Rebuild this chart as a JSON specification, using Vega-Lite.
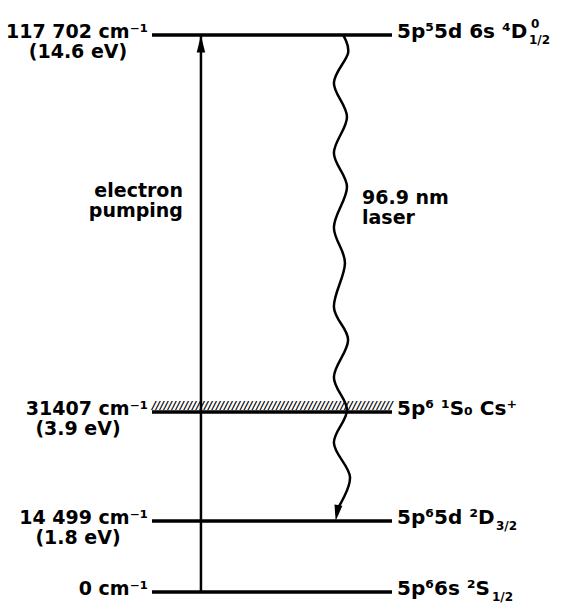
{
  "$schema": "https://vega.github.io/schema/vega-lite/v6.json",
  "width": 564,
  "height": 606,
  "autosize": "none",
  "padding": 0,
  "background": "white",
  "config": {
    "view": {"stroke": null},
    "text": {"font": "DejaVu Sans", "fontWeight": "bold", "fontSize": 19, "color": "black"}
  },
  "datasets": {
    "levels": [
      {"energy": 117702, "cm": "117 702 cm⁻¹", "ev": "(14.6 eV)", "state": "5p⁵5d 6s ⁴D", "sup": "0", "sub": "1/2", "ionization": false},
      {"energy": 31407, "cm": "31407 cm⁻¹", "ev": "(3.9 eV)", "state": "5p⁶ ¹S₀ Cs⁺", "sup": "", "sub": "", "ionization": true},
      {"energy": 14499, "cm": "14 499 cm⁻¹", "ev": "(1.8 eV)", "state": "5p⁶5d ²D", "sup": "", "sub": "3/2", "ionization": false},
      {"energy": 0, "cm": "0 cm⁻¹", "ev": "", "state": "5p⁶6s ²S", "sup": "", "sub": "1/2", "ionization": false}
    ],
    "transitions": [
      {"kind": "pump", "from": 0, "to": 117702},
      {"kind": "laser", "from": 117702, "to": 14499}
    ],
    "wave": [
      {"i": 1, "x": 79.6, "e": 117702},
      {"i": 2, "x": 81.7, "e": 113582},
      {"i": 3, "x": 75.8, "e": 106715},
      {"i": 4, "x": 81.25, "e": 98933},
      {"i": 5, "x": 75.8, "e": 90692},
      {"i": 6, "x": 81.25, "e": 82910},
      {"i": 7, "x": 75.8, "e": 73754},
      {"i": 8, "x": 80.4, "e": 65513},
      {"i": 9, "x": 75.8, "e": 55442},
      {"i": 10, "x": 81.7, "e": 47888},
      {"i": 11, "x": 75.8, "e": 39419},
      {"i": 12, "x": 81.25, "e": 31865},
      {"i": 13, "x": 75.8, "e": 26597},
      {"i": 14, "x": 82.5, "e": 21323},
      {"i": 15, "x": 77.5, "e": 16515}
    ]
  },
  "layer": [
    {
      "data": {"name": "levels"},
      "transform": [{"filter": "datum.ionization"}],
      "mark": {"type": "text", "text": "////////////////////////////////////////////////////////////", "align": "left", "baseline": "alphabetic", "fontSize": 11, "fontStyle": "italic", "fontWeight": "bold", "dy": -3},
      "encoding": {
        "x": {"datum": 0, "type": "quantitative", "scale": {"domain": [-63.33, 171.67], "nice": false, "zero": false}, "axis": null},
        "y": {"field": "energy", "type": "quantitative", "scale": {"domain": [0, 14499, 31407, 117702], "range": [592, 521, 412, 35], "nice": false, "zero": false}, "axis": null}
      }
    },
    {
      "data": {"name": "levels"},
      "mark": {"type": "rule", "strokeWidth": 3.5, "color": "black"},
      "encoding": {
        "x": {"datum": 0, "type": "quantitative", "scale": {"domain": [-63.33, 171.67], "nice": false, "zero": false}, "axis": null},
        "x2": {"datum": 100},
        "y": {"field": "energy", "type": "quantitative", "scale": {"domain": [0, 14499, 31407, 117702], "range": [592, 521, 412, 35], "nice": false, "zero": false}, "axis": null}
      }
    },
    {
      "data": {"name": "transitions"},
      "transform": [{"filter": "datum.kind === 'pump'"}],
      "mark": {"type": "rule", "strokeWidth": 2.5, "color": "black"},
      "encoding": {
        "x": {"datum": 20.4, "type": "quantitative", "scale": {"domain": [-63.33, 171.67], "nice": false, "zero": false}, "axis": null},
        "y": {"field": "from", "type": "quantitative", "scale": {"domain": [0, 14499, 31407, 117702], "range": [592, 521, 412, 35], "nice": false, "zero": false}, "axis": null},
        "y2": {"field": "to"}
      }
    },
    {
      "data": {"name": "transitions"},
      "transform": [{"filter": "datum.kind === 'pump'"}],
      "mark": {"type": "point", "shape": "M-0.5,1L0,-1L0.5,1Z", "size": 289, "filled": true, "color": "black", "opacity": 1, "yOffset": 9},
      "encoding": {
        "x": {"datum": 20.4, "type": "quantitative", "scale": {"domain": [-63.33, 171.67], "nice": false, "zero": false}, "axis": null},
        "y": {"field": "to", "type": "quantitative", "scale": {"domain": [0, 14499, 31407, 117702], "range": [592, 521, 412, 35], "nice": false, "zero": false}, "axis": null}
      }
    },
    {
      "data": {"name": "wave"},
      "mark": {"type": "line", "interpolate": "cardinal", "strokeWidth": 2.5, "color": "black"},
      "encoding": {
        "x": {"field": "x", "type": "quantitative", "scale": {"domain": [-63.33, 171.67], "nice": false, "zero": false}, "axis": null},
        "y": {"field": "e", "type": "quantitative", "scale": {"domain": [0, 14499, 31407, 117702], "range": [592, 521, 412, 35], "nice": false, "zero": false}, "axis": null},
        "order": {"field": "i", "type": "quantitative"}
      }
    },
    {
      "data": {"name": "transitions"},
      "transform": [{"filter": "datum.kind === 'laser'"}],
      "mark": {"type": "point", "shape": "M-0.5,-1L0,1L0.5,-1Z", "size": 256, "filled": true, "color": "black", "opacity": 1, "yOffset": -8, "angle": 10},
      "encoding": {
        "x": {"datum": 77.1, "type": "quantitative", "scale": {"domain": [-63.33, 171.67], "nice": false, "zero": false}, "axis": null},
        "y": {"field": "to", "type": "quantitative", "scale": {"domain": [0, 14499, 31407, 117702], "range": [592, 521, 412, 35], "nice": false, "zero": false}, "axis": null}
      }
    },
    {
      "data": {"name": "levels"},
      "mark": {"type": "text", "align": "right", "baseline": "alphabetic", "dx": -4, "dy": 3},
      "encoding": {
        "x": {"datum": 0, "type": "quantitative", "scale": {"domain": [-63.33, 171.67], "nice": false, "zero": false}, "axis": null},
        "y": {"field": "energy", "type": "quantitative", "scale": {"domain": [0, 14499, 31407, 117702], "range": [592, 521, 412, 35], "nice": false, "zero": false}, "axis": null},
        "text": {"field": "cm"}
      }
    },
    {
      "data": {"name": "levels"},
      "mark": {"type": "text", "align": "center", "baseline": "alphabetic", "dx": -74, "dy": 23},
      "encoding": {
        "x": {"datum": 0, "type": "quantitative", "scale": {"domain": [-63.33, 171.67], "nice": false, "zero": false}, "axis": null},
        "y": {"field": "energy", "type": "quantitative", "scale": {"domain": [0, 14499, 31407, 117702], "range": [592, 521, 412, 35], "nice": false, "zero": false}, "axis": null},
        "text": {"field": "ev"}
      }
    },
    {
      "data": {"name": "levels"},
      "mark": {"type": "text", "align": "left", "baseline": "alphabetic", "dx": 5, "dy": 3, "fontSize": 20},
      "encoding": {
        "x": {"datum": 100, "type": "quantitative", "scale": {"domain": [-63.33, 171.67], "nice": false, "zero": false}, "axis": null},
        "y": {"field": "energy", "type": "quantitative", "scale": {"domain": [0, 14499, 31407, 117702], "range": [592, 521, 412, 35], "nice": false, "zero": false}, "axis": null},
        "text": {"field": "state"}
      }
    },
    {
      "data": {"name": "levels"},
      "transform": [{"filter": "datum.energy === 117702"}],
      "mark": {"type": "text", "align": "left", "baseline": "alphabetic", "dx": 137, "dy": 9, "fontSize": 12},
      "encoding": {
        "x": {"datum": 100, "type": "quantitative", "scale": {"domain": [-63.33, 171.67], "nice": false, "zero": false}, "axis": null},
        "y": {"field": "energy", "type": "quantitative", "scale": {"domain": [0, 14499, 31407, 117702], "range": [592, 521, 412, 35], "nice": false, "zero": false}, "axis": null},
        "text": {"field": "sub"}
      }
    },
    {
      "data": {"name": "levels"},
      "transform": [{"filter": "datum.energy === 117702"}],
      "mark": {"type": "text", "align": "left", "baseline": "alphabetic", "dx": 139, "dy": -7, "fontSize": 12},
      "encoding": {
        "x": {"datum": 100, "type": "quantitative", "scale": {"domain": [-63.33, 171.67], "nice": false, "zero": false}, "axis": null},
        "y": {"field": "energy", "type": "quantitative", "scale": {"domain": [0, 14499, 31407, 117702], "range": [592, 521, 412, 35], "nice": false, "zero": false}, "axis": null},
        "text": {"field": "sup"}
      }
    },
    {
      "data": {"name": "levels"},
      "transform": [{"filter": "datum.energy === 14499"}],
      "mark": {"type": "text", "align": "left", "baseline": "alphabetic", "dx": 104, "dy": 9, "fontSize": 12},
      "encoding": {
        "x": {"datum": 100, "type": "quantitative", "scale": {"domain": [-63.33, 171.67], "nice": false, "zero": false}, "axis": null},
        "y": {"field": "energy", "type": "quantitative", "scale": {"domain": [0, 14499, 31407, 117702], "range": [592, 521, 412, 35], "nice": false, "zero": false}, "axis": null},
        "text": {"field": "sub"}
      }
    },
    {
      "data": {"name": "levels"},
      "transform": [{"filter": "datum.energy === 0"}],
      "mark": {"type": "text", "align": "left", "baseline": "alphabetic", "dx": 100, "dy": 9, "fontSize": 12},
      "encoding": {
        "x": {"datum": 100, "type": "quantitative", "scale": {"domain": [-63.33, 171.67], "nice": false, "zero": false}, "axis": null},
        "y": {"field": "energy", "type": "quantitative", "scale": {"domain": [0, 14499, 31407, 117702], "range": [592, 521, 412, 35], "nice": false, "zero": false}, "axis": null},
        "text": {"field": "sub"}
      }
    },
    {
      "data": {"values": [{"label": ["electron", "pumping"]}]},
      "mark": {"type": "text", "align": "right", "baseline": "alphabetic", "dx": -18, "lineHeight": 20},
      "encoding": {
        "x": {"datum": 20.4, "type": "quantitative", "scale": {"domain": [-63.33, 171.67], "nice": false, "zero": false}, "axis": null},
        "y": {"datum": 80600, "type": "quantitative", "scale": {"domain": [0, 14499, 31407, 117702], "range": [592, 521, 412, 35], "nice": false, "zero": false}, "axis": null},
        "text": {"field": "label"}
      }
    },
    {
      "data": {"values": [{"label": ["96.9 nm", "laser"]}]},
      "mark": {"type": "text", "align": "left", "baseline": "alphabetic", "lineHeight": 20},
      "encoding": {
        "x": {"datum": 87.5, "type": "quantitative", "scale": {"domain": [-63.33, 171.67], "nice": false, "zero": false}, "axis": null},
        "y": {"datum": 79000, "type": "quantitative", "scale": {"domain": [0, 14499, 31407, 117702], "range": [592, 521, 412, 35], "nice": false, "zero": false}, "axis": null},
        "text": {"field": "label"}
      }
    }
  ]
}
